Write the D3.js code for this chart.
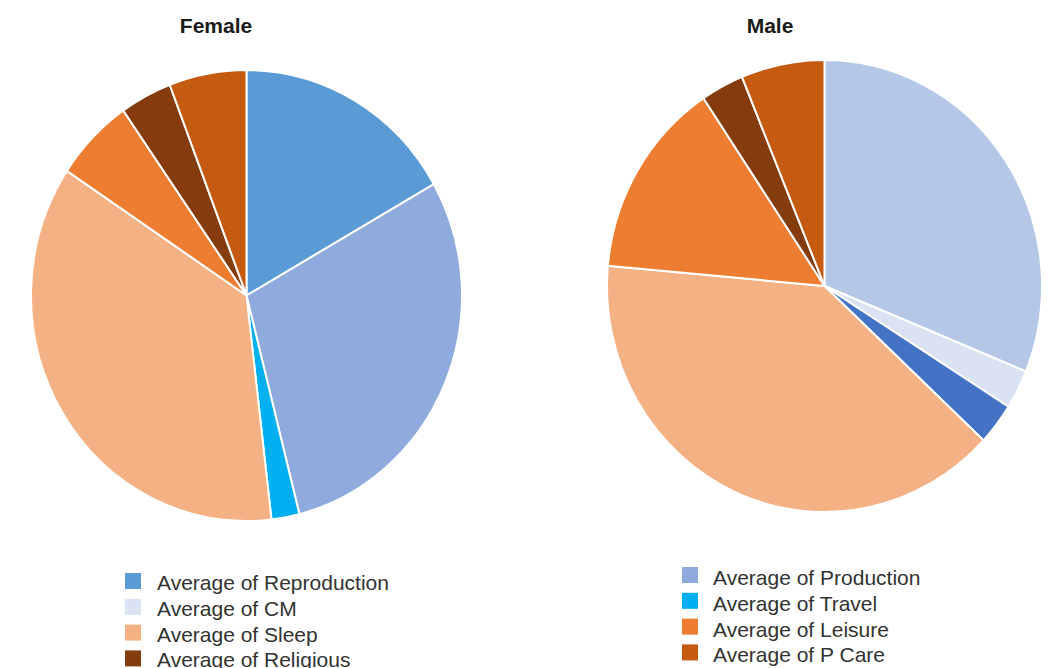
<!DOCTYPE html>
<html>
<head>
<meta charset="utf-8">
<script src="https://cdn.jsdelivr.net/npm/d3@7"></script>
<style>
  body { margin: 0; background: #fff; }
  svg { display: block; font-family: "Liberation Sans", Arial, sans-serif; }
  .title { font-weight: bold; font-size: 21px; fill: #1a1a1a; }
  .legend text { font-size: 21px; fill: #333; }
  .slice { stroke: #fff; stroke-width: 2; vector-effect: non-scaling-stroke; }
</style>
</head>
<body>
<div id="chart"></div>
<script>

// slice values (share of the day, %)
var femaleNames = ["Reproduction", "Production", "Travel", "Sleep", "Leisure", "Religious", "P Care"];
var femaleValues = [16.8, 29.3, 2.1, 36.2, 6.0, 3.9, 5.8];
var femaleColors = ["#5b9bd5", "#8faadc", "#00b0f0", "#f4b183", "#ed7d31", "#843c0c", "#c55a11"];

var maleNames = ["Production", "CM", "Travel", "Sleep", "Leisure", "Religious", "P Care"];
var maleValues = [31.2, 2.8, 3.0, 39.5, 14.2, 3.2, 6.2];
var maleColors = ["#b4c7e7", "#dae3f3", "#4472c4", "#f4b183", "#ed7d31", "#843c0c", "#c55a11"];

var legendLeft = ["Reproduction", "CM", "Sleep", "Religious"];
var legendLeftColors = ["#5b9bd5", "#dae3f3", "#f4b183", "#843c0c"];
var legendRight = ["Production", "Travel", "Leisure", "P Care"];
var legendRightColors = ["#8faadc", "#00b0f0", "#ed7d31", "#c55a11"];

window.onload = function(){
  var svg = d3.select("#chart").append("svg")
      .attr("width", 1049)
      .attr("height", 668);

  drawPie(svg, "Female", femaleNames, femaleValues, femaleColors,
      {cx: 246.5, cy: 295.5, rx: 215.5, ry: 225.5, titleX: 216});
  drawPie(svg, "Male", maleNames, maleValues, maleColors,
      {cx: 824.5, cy: 286, rx: 217.5, ry: 226, titleX: 770});

  drawLegend(svg, legendLeft, legendLeftColors, 125, 573, 157, 590);
  drawLegend(svg, legendRight, legendRightColors, 682, 567, 713, 585);
};

function drawPie(svg, title, names, values, colors, box){
  var pie = d3.pie()
      .sort(null)
      .value(function(d){ return d; });

  var arc = d3.arc()
      .innerRadius(0)
      .outerRadius(box.rx);

  var color = d3.scaleOrdinal()
      .domain(names)
      .range(colors);

  svg.append("text")
      .attr("class", "title")
      .attr("x", box.titleX)
      .attr("y", 33)
      .attr("text-anchor", "middle")
      .text(title);

  // the picture is a little taller than wide, so stretch the pie
  var g = svg.append("g")
      .attr("transform", "translate(" + box.cx + "," + box.cy + ") scale(1," + (box.ry / box.rx) + ")");

  g.selectAll("path")
      .data(pie(values))
    .enter().append("path")
      .attr("class", "slice")
      .attr("d", arc)
      .attr("fill", function(d, i){ return color(names[i]); });
}

function drawLegend(svg, names, colors, boxX, boxY, textX, textY){
  var step = 25.8;

  var y = d3.scaleLinear()
      .domain([0, 1])
      .range([0, step]);

  var g = svg.append("g")
      .attr("class", "legend");

  var row = g.selectAll("g")
      .data(names)
    .enter().append("g");

  row.append("rect")
      .attr("x", boxX)
      .attr("y", function(d, i){ return boxY + y(i); })
      .attr("width", 16)
      .attr("height", 16)
      .attr("fill", function(d, i){ return colors[i]; });

  row.append("text")
      .attr("x", textX)
      .attr("y", function(d, i){ return textY + y(i); })
      .text(function(d){ return "Average of " + d; });
}
</script>
</body>
</html>
